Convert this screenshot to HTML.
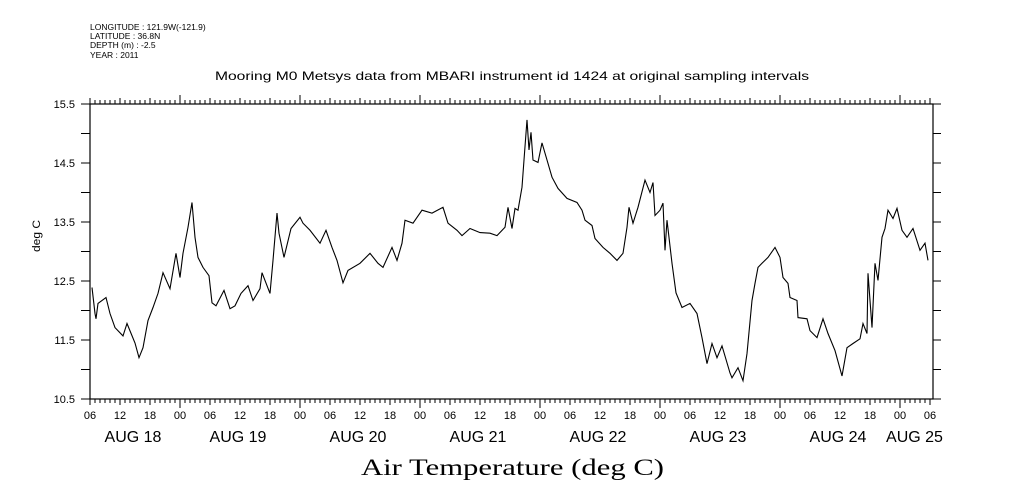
<!DOCTYPE html>
<html><head><meta charset="utf-8"><style>
html,body{margin:0;padding:0;background:#fff;}
svg{display:block;font-family:"Liberation Sans",sans-serif;}
</style></head><body>
<svg id="chart" width="1009" height="504" viewBox="0 0 1009 504" xmlns="http://www.w3.org/2000/svg">
<rect width="1009" height="504" fill="#fff"/>
<g font-size="8.5" fill="#000">
<text x="90" y="30">LONGITUDE : 121.9W(-121.9)</text>
<text x="90" y="39">LATITUDE : 36.8N</text>
<text x="90" y="48">DEPTH (m) : -2.5</text>
<text x="90" y="58">YEAR : 2011</text>
</g>
<text x="215" y="80" font-size="12" textLength="594" lengthAdjust="spacingAndGlyphs">Mooring M0 Metsys data from MBARI instrument id 1424 at original sampling intervals</text>
<text transform="translate(40,252) rotate(-90)" font-size="11" textLength="32" lengthAdjust="spacingAndGlyphs">deg C</text>
<text x="361" y="475" font-size="23" font-family="Liberation Serif, serif" textLength="303" lengthAdjust="spacingAndGlyphs">Air Temperature (deg C)</text>
<g id="axes"></g>
<g id="series"></g>
</svg>
<script>
const hours = [0.4,1.0,1.2,1.6,3.2,4.0,5.0,6.6,7.4,9.0,9.8,10.6,11.6,12.6,13.6,14.6,16.0,17.2,18.0,18.6,19.6,20.4,21.0,21.6,22.6,23.8,24.4,25.2,26.8,28.0,29.0,30.2,31.6,32.6,34.0,34.4,36.0,36.6,37.4,37.8,38.8,40.2,42.0,42.6,44.0,46.0,47.2,48.4,49.4,50.6,51.6,54.0,56.0,57.6,58.6,60.4,61.4,62.4,63.0,64.6,66.4,68.4,70.6,71.6,73.4,74.4,76.0,78.0,80.0,81.4,83.0,83.6,84.4,85.0,85.6,86.4,86.8,87.4,87.8,88.2,88.6,89.6,90.4,91.4,92.4,93.6,95.4,97.4,98.4,99.0,100.4,101.0,102.6,104.0,105.4,106.6,107.4,107.8,108.6,109.6,111.0,112.0,112.6,113.0,114.0,114.6,115.0,115.4,116.4,117.2,118.4,120.0,121.4,122.4,123.4,124.4,125.4,126.4,128.0,128.4,129.6,130.6,131.4,132.4,133.0,133.6,134.4,135.6,137.0,138.0,138.6,139.6,140.0,141.4,141.6,143.4,144.0,145.4,146.6,147.6,149.0,150.4,151.4,152.6,154.0,154.6,155.4,155.6,156.4,157.0,157.6,158.4,159.0,159.6,160.6,161.4,162.4,163.4,164.6,166.0,167.0,167.6];
const temps = [12.39,11.95,11.86,12.12,12.22,11.95,11.71,11.57,11.78,11.45,11.20,11.37,11.83,12.05,12.29,12.64,12.37,12.97,12.56,12.97,13.41,13.83,13.24,12.90,12.73,12.59,12.13,12.08,12.34,12.03,12.08,12.29,12.42,12.17,12.37,12.64,12.29,12.85,13.65,13.31,12.90,13.39,13.58,13.48,13.36,13.14,13.36,13.07,12.85,12.47,12.68,12.80,12.97,12.80,12.73,13.07,12.85,13.14,13.53,13.48,13.70,13.65,13.75,13.48,13.36,13.27,13.39,13.32,13.31,13.27,13.41,13.75,13.39,13.73,13.70,14.09,14.55,15.23,14.72,15.02,14.55,14.51,14.84,14.55,14.26,14.07,13.90,13.83,13.70,13.53,13.44,13.22,13.07,12.97,12.85,12.97,13.41,13.75,13.48,13.75,14.21,14.00,14.17,13.61,13.70,13.82,13.02,13.53,12.80,12.30,12.05,12.12,11.95,11.54,11.10,11.44,11.20,11.40,10.94,10.86,11.03,10.81,11.27,12.17,12.46,12.73,12.80,12.90,13.07,12.90,12.56,12.46,12.22,12.17,11.88,11.86,11.66,11.54,11.86,11.61,11.32,10.89,11.37,11.44,11.52,11.78,11.61,12.63,11.71,12.80,12.51,13.24,13.39,13.70,13.56,13.73,13.36,13.24,13.39,13.02,13.14,12.85];
const yTickLabels = ["10.5","11.5","12.5","13.5","14.5","15.5"];
const hourLabels = ["06","12","18","00"];
const dayLabels = ["AUG 18","AUG 19","AUG 20","AUG 21","AUG 22","AUG 23","AUG 24","AUG 25"];

const NS="http://www.w3.org/2000/svg";
const L=90,R=933,T=104,B=399;
const X0=0,XPH=5;
const YMIN=10.5,YMAX=15.5;
const x=h=>L+(h-X0)*XPH;
const y=v=>B-(v-YMIN)/(YMAX-YMIN)*(B-T);
function mk(tag,attrs,parent){const e=document.createElementNS(NS,tag);for(const k in attrs)e.setAttribute(k,attrs[k]);parent.appendChild(e);return e;}
const axes=document.getElementById('axes');
const frame=mk('rect',{x:L,y:T,width:R-L,height:B-T,fill:'none',stroke:'#000','stroke-width':1.2},axes);


for(let v=YMIN;v<=YMAX+1e-6;v+=0.5){
  const t1=mk('line',{x1:L-9,x2:L,y1:y(v),y2:y(v),stroke:'#000'},axes);
  
  
  const t2=mk('line',{x1:R,x2:R+8,y1:y(v),y2:y(v),stroke:'#000'},axes);
  
  
}
yTickLabels.forEach(s=>{
  const t=mk('text',{x:75,y:y(parseFloat(s))+4,'font-size':11,'text-anchor':'end'},axes);
  t.textContent=s;
  
  
});
const nH=Math.floor((R-L)/XPH);
for(let h=0;h<=nH;h++){
  const mid=(h+6)%24===0, six=(h%6===0);
  const len=mid?9:(six?6:4);
  const tb=mk('line',{x1:x(h),x2:x(h),y1:B,y2:B+len,stroke:'#000'},axes);
  
  
  const tt=mk('line',{x1:x(h),x2:x(h),y1:T,y2:T-len,stroke:'#000'},axes);
  
  
  if(six){
    const lb=mk('text',{x:x(h),y:419,'font-size':11,'text-anchor':'middle'},axes);
    lb.textContent=hourLabels[(h/6)%4];
    
    
  }
}
dayLabels.forEach((s,i)=>{
  const start=Math.max(0,i*24-6), end=Math.min((R-L)/XPH,i*24+18);
  const d=mk('text',{x:(x(start)+x(end))/2-2,y:442,'font-size':16,'text-anchor':'middle'},axes);
  d.textContent=s;
  
  
});
const pts=hours.map((h,i)=>x(h).toFixed(1)+','+y(temps[i]).toFixed(1)).join(' ');
const line=mk('polyline',{points:pts,fill:'none',stroke:'#000','stroke-width':1.1,'stroke-linejoin':'miter'},document.getElementById('series'));


</script>
</body></html>
